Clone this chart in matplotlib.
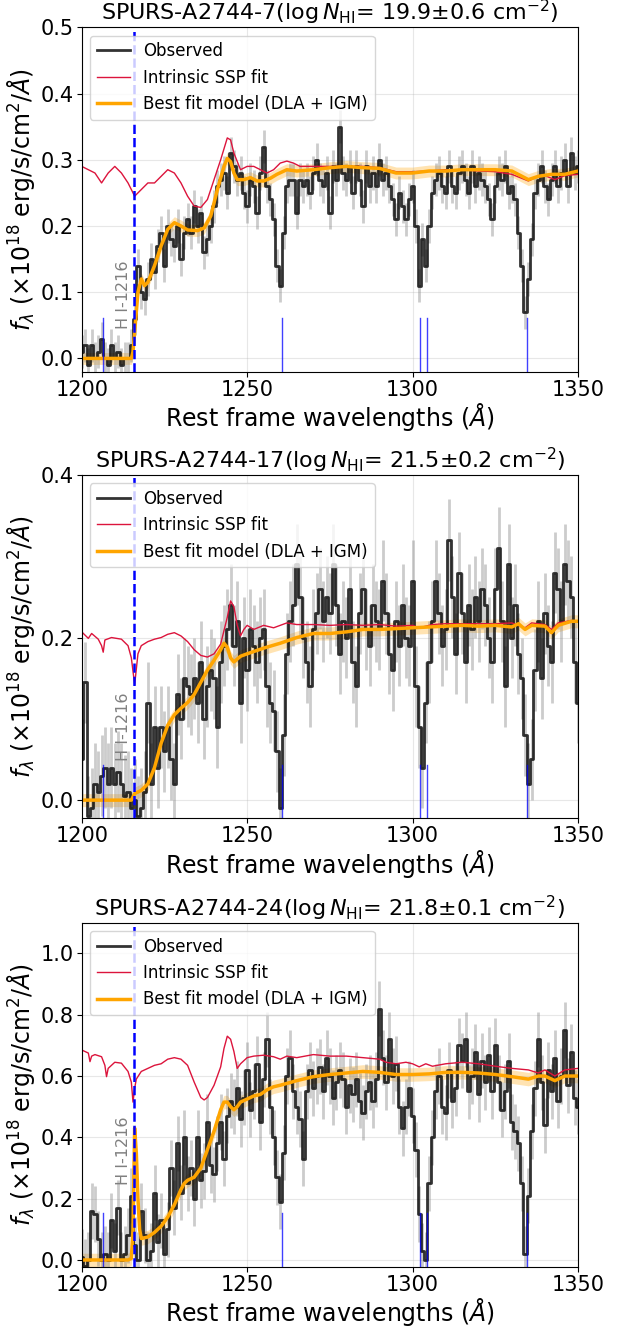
import numpy as np
import matplotlib
matplotlib.use("Agg")
import matplotlib.pyplot as plt

# wavelength grid of the observed spectra (1 A bins)
wave = np.arange(1200, 1351)

names = ["SPURS-A2744-7", "SPURS-A2744-17", "SPURS-A2744-24"]
logN = ["19.9", "21.5", "21.8"]
logN_err = ["0.6", "0.2", "0.1"]

# observed flux (x1e-18 erg/s/cm2/A)
obs_7 = [0.01, 0.02, -0.01, 0.02, 0.00, 0.01, 0.03, 0.00, -0.01, 0.02,
         0.00, 0.01, -0.01, 0.00, 0.00, 0.02, 0.06, 0.14, 0.10, 0.09,
         0.12, 0.15, 0.13, 0.17, 0.19, 0.14, 0.20, 0.18, 0.17, 0.20,
         0.15, 0.19, 0.21, 0.19, 0.23, 0.20, 0.22, 0.16, 0.18, 0.20,
         0.23, 0.26, 0.27, 0.28, 0.25, 0.31, 0.29, 0.27, 0.28, 0.25,
         0.23, 0.27, 0.26, 0.22, 0.28, 0.32, 0.26, 0.24, 0.21, 0.14,
         0.11, 0.19, 0.26, 0.27, 0.27, 0.22, 0.27, 0.26, 0.27, 0.25,
         0.28, 0.30, 0.27, 0.26, 0.28, 0.22, 0.29, 0.27, 0.35, 0.28,
         0.27, 0.29, 0.25, 0.29, 0.27, 0.23, 0.29, 0.26, 0.28, 0.26,
         0.30, 0.27, 0.28, 0.26, 0.24, 0.21, 0.25, 0.23, 0.21, 0.24,
         0.26, 0.20, 0.11, 0.18, 0.14, 0.20, 0.25, 0.27, 0.28, 0.26,
         0.25, 0.29, 0.26, 0.25, 0.28, 0.29, 0.27, 0.25, 0.29, 0.26,
         0.28, 0.27, 0.26, 0.24, 0.21, 0.26, 0.28, 0.27, 0.29, 0.25,
         0.26, 0.24, 0.19, 0.14, 0.07, 0.12, 0.18, 0.25, 0.27, 0.29,
         0.26, 0.24, 0.27, 0.29, 0.26, 0.28, 0.30, 0.26, 0.31, 0.28,
         0.29]
obs_17 = [0.05, 0.145, -0.02, -0.01, 0.02, 0.01, 0.03, 0.04, 0.02, 0.04,
          0.02, 0.035, 0.02, 0.005, 0.01, -0.01, 0.00, -0.02, -0.01, 0.01,
          0.12, 0.02, 0.09, 0.04, 0.09, 0.06, 0.09, 0.05, 0.02, 0.13,
          0.10, 0.15, 0.14, 0.13, 0.15, 0.12, 0.17, 0.10, 0.14, 0.16,
          0.15, 0.09, 0.17, 0.19, 0.21, 0.24, 0.19, 0.22, 0.12, 0.20,
          0.16, 0.21, 0.19, 0.17, 0.20, 0.21, 0.14, 0.12, 0.11, 0.06,
          -0.01, 0.08, 0.18, 0.22, 0.24, 0.29, 0.25, 0.20, 0.17, 0.14,
          0.21, 0.23, 0.26, 0.22, 0.25, 0.23, 0.29, 0.24, 0.18, 0.22,
          0.20, 0.26, 0.17, 0.14, 0.23, 0.26, 0.21, 0.19, 0.24, 0.22,
          0.21, 0.27, 0.23, 0.18, 0.16, 0.22, 0.19, 0.24, 0.20, 0.19,
          0.27, 0.14, 0.09, 0.04, 0.12, 0.17, 0.22, 0.27, 0.23, 0.19,
          0.21, 0.32, 0.25, 0.18, 0.28, 0.23, 0.17, 0.24, 0.21, 0.25,
          0.22, 0.26, 0.24, 0.20, 0.17, 0.26, 0.31, 0.22, 0.14, 0.29,
          0.20, 0.24, 0.18, 0.15, 0.08, 0.02, 0.05, 0.16, 0.22, 0.15,
          0.23, 0.19, 0.17, 0.28, 0.26, 0.22, 0.29, 0.27, 0.25, 0.17,
          0.12]
obs_24 = [0.01, -0.02, 0.00, 0.16, 0.15, 0.07, 0.00, 0.02, 0.00, 0.13,
          0.03, 0.17, 0.00, 0.02, 0.08, 0.21, 0.05, 0.00, 0.16, 0.08,
          0.00, 0.03, 0.22, 0.06, 0.13, 0.02, 0.10, 0.30, 0.17, 0.38,
          0.22, 0.40, 0.25, 0.30, 0.20, 0.40, 0.26, 0.29, 0.45, 0.31,
          0.28, 0.38, 0.45, 0.33, 0.47, 0.52, 0.50, 0.56, 0.46, 0.53,
          0.62, 0.49, 0.55, 0.64, 0.45, 0.59, 0.72, 0.50, 0.40, 0.27,
          0.19, 0.35, 0.60, 0.66, 0.55, 0.50, 0.46, 0.33, 0.55, 0.62,
          0.56, 0.60, 0.63, 0.55, 0.66, 0.60, 0.53, 0.58, 0.62, 0.59,
          0.50, 0.57, 0.54, 0.59, 0.52, 0.48, 0.55, 0.58, 0.52, 0.59,
          0.82, 0.66, 0.58, 0.72, 0.60, 0.64, 0.50, 0.43, 0.50, 0.56,
          0.47, 0.36, 0.15, 0.03, 0.00, 0.25, 0.40, 0.55, 0.60, 0.50,
          0.48, 0.62, 0.52, 0.56, 0.70, 0.65, 0.72, 0.55, 0.60, 0.68,
          0.54, 0.65, 0.58, 0.67, 0.55, 0.70, 0.58, 0.49, 0.55, 0.65,
          0.45, 0.42, 0.38, 0.25, 0.02, 0.21, 0.42, 0.56, 0.72, 0.58,
          0.44, 0.62, 0.55, 0.66, 0.52, 0.60, 0.75, 0.57, 0.68, 0.53,
          0.50]
obs_err = [0.025, 0.05, 0.09]

# intrinsic SSP continuum
ssp_wave_7 = [1200, 1202, 1204, 1206, 1208, 1210, 1212, 1214, 1216, 1218, 1220, 1222,
              1224, 1226, 1228, 1230, 1232, 1234, 1236, 1238, 1240, 1242, 1244, 1245,
              1246, 1248, 1250, 1252, 1254, 1256, 1258, 1260, 1262, 1264, 1266, 1270,
              1275, 1280, 1285, 1290, 1295, 1300, 1305, 1310, 1315, 1320, 1325, 1330,
              1335, 1338, 1340, 1343, 1346, 1350]
ssp_7 = [0.29, 0.285, 0.28, 0.265, 0.28, 0.29, 0.28, 0.265, 0.245, 0.255, 0.265, 0.265,
         0.275, 0.285, 0.28, 0.265, 0.245, 0.23, 0.228, 0.24, 0.27, 0.30, 0.333, 0.33,
         0.31, 0.285, 0.29, 0.29, 0.285, 0.28, 0.285, 0.295, 0.298, 0.295, 0.29, 0.29,
         0.29, 0.29, 0.29, 0.288, 0.282, 0.282, 0.283, 0.285, 0.285, 0.283, 0.282, 0.278,
         0.268, 0.275, 0.276, 0.27, 0.276, 0.278]
ssp_wave_17 = [1200, 1202, 1203, 1205, 1206, 1206.5, 1207, 1209, 1212, 1214, 1215, 1216,
               1217, 1218, 1220, 1222, 1224, 1226, 1228, 1230, 1232, 1234, 1236, 1238,
               1240, 1242, 1244, 1245, 1246, 1247, 1248, 1249, 1250, 1252, 1255, 1258,
               1260, 1262, 1265, 1270, 1275, 1280, 1285, 1290, 1295, 1300, 1302, 1304,
               1306, 1310, 1315, 1320, 1325, 1330, 1334, 1336, 1340, 1342, 1344, 1348, 1350]
ssp_17 = [0.207, 0.199, 0.205, 0.198, 0.19, 0.182, 0.197, 0.2, 0.198, 0.19, 0.175, 0.142,
          0.18, 0.19, 0.195, 0.198, 0.2, 0.204, 0.206, 0.202, 0.195, 0.185, 0.178, 0.176,
          0.18, 0.192, 0.225, 0.245, 0.238, 0.215, 0.202, 0.21, 0.215, 0.21, 0.215, 0.212,
          0.215, 0.218, 0.216, 0.216, 0.215, 0.216, 0.215, 0.216, 0.214, 0.215, 0.212, 0.214,
          0.216, 0.217, 0.217, 0.217, 0.217, 0.218, 0.212, 0.218, 0.216, 0.21, 0.218, 0.221, 0.22]
ssp_wave_24 = [1200, 1202, 1202.5, 1203, 1204, 1206, 1207, 1207.5, 1208, 1210, 1212, 1214,
               1215, 1215.5, 1216, 1216.5, 1218, 1220, 1222, 1224, 1226, 1228, 1230, 1232,
               1234, 1236, 1237, 1238, 1240, 1242, 1243, 1244, 1245, 1246, 1247, 1248,
               1250, 1252, 1255, 1258, 1260, 1262, 1265, 1270, 1275, 1280, 1285, 1290,
               1292, 1295, 1298, 1300, 1302, 1304, 1306, 1310, 1315, 1320, 1325, 1330,
               1335, 1338, 1340, 1343, 1346, 1350]
ssp_24 = [0.685, 0.675, 0.647, 0.665, 0.67, 0.663, 0.635, 0.598, 0.625, 0.645, 0.642, 0.615,
          0.58, 0.515, 0.56, 0.59, 0.615, 0.625, 0.635, 0.64, 0.655, 0.66, 0.655, 0.635,
          0.58, 0.53, 0.522, 0.53, 0.57, 0.63, 0.69, 0.73, 0.72, 0.68, 0.625, 0.64,
          0.66, 0.665, 0.668, 0.663, 0.655, 0.665, 0.66, 0.67, 0.665, 0.665, 0.66, 0.655,
          0.645, 0.64, 0.645, 0.64, 0.63, 0.64, 0.632, 0.64, 0.645, 0.64, 0.632, 0.625,
          0.62, 0.61, 0.62, 0.60, 0.62, 0.625]

# best-fit model (DLA + IGM) and its uncertainty
fit_wave_7 = [1200, 1215, 1215.5, 1216, 1217, 1218, 1219, 1220, 1222, 1224, 1226, 1228,
              1230, 1232, 1235, 1237, 1239, 1241, 1243, 1244, 1245, 1246, 1247, 1249,
              1251, 1253, 1255, 1257, 1259, 1262, 1265, 1270, 1275, 1280, 1285, 1290,
              1295, 1300, 1305, 1310, 1315, 1320, 1325, 1330, 1335, 1338, 1342, 1346, 1350]
fit_7 = [0.0, 0.0, 0.01, 0.04, 0.10, 0.12, 0.11, 0.115, 0.14, 0.17, 0.195, 0.205,
         0.2, 0.194, 0.193, 0.197, 0.215, 0.255, 0.29, 0.302, 0.297, 0.28, 0.27, 0.27,
         0.273, 0.268, 0.268, 0.272, 0.278, 0.285, 0.283, 0.285, 0.288, 0.29, 0.288, 0.287,
         0.28, 0.28, 0.283, 0.283, 0.285, 0.285, 0.285, 0.283, 0.27, 0.275, 0.278, 0.278, 0.283]
fit_wave_17 = [1200, 1215, 1216, 1218, 1220, 1222, 1224, 1226, 1228, 1230, 1232, 1234,
               1236, 1238, 1240, 1242, 1243, 1244, 1245, 1246, 1248, 1250, 1255, 1260,
               1265, 1270, 1275, 1280, 1285, 1290, 1295, 1300, 1305, 1310, 1315, 1320,
               1325, 1330, 1332, 1334, 1336, 1340, 1342, 1344, 1348, 1350]
fit_17 = [0.0, 0.0, 0.008, 0.012, 0.02, 0.04, 0.07, 0.092, 0.105, 0.113, 0.12, 0.13,
          0.145, 0.16, 0.172, 0.185, 0.193, 0.188, 0.175, 0.17, 0.177, 0.18, 0.187, 0.193,
          0.2, 0.205, 0.205, 0.207, 0.21, 0.21, 0.211, 0.212, 0.213, 0.214, 0.215, 0.214,
          0.215, 0.213, 0.217, 0.21, 0.215, 0.214, 0.206, 0.215, 0.22, 0.22]
fit_wave_24 = [1200, 1214, 1215, 1215.5, 1216, 1216.5, 1217, 1217.5, 1218, 1220, 1222, 1224,
               1226, 1228, 1230, 1231, 1232, 1234, 1236, 1238, 1240, 1242, 1243, 1244,
               1245, 1246, 1247, 1248, 1250, 1252, 1254, 1256, 1258, 1260, 1265, 1270,
               1275, 1280, 1285, 1290, 1295, 1300, 1305, 1310, 1315, 1320, 1325, 1330,
               1335, 1338, 1340, 1343, 1346, 1350]
fit_24 = [0.0, 0.0, 0.005, 0.1, 0.43, 0.35, 0.2, 0.1, 0.07, 0.075, 0.09, 0.11,
          0.14, 0.18, 0.23, 0.25, 0.26, 0.27, 0.3, 0.36, 0.42, 0.49, 0.515, 0.515,
          0.5, 0.49, 0.5, 0.515, 0.525, 0.535, 0.54, 0.555, 0.565, 0.57, 0.585, 0.598,
          0.605, 0.61, 0.615, 0.612, 0.605, 0.605, 0.607, 0.612, 0.612, 0.61, 0.605, 0.598,
          0.59, 0.6, 0.6, 0.585, 0.6, 0.6]
fit_err = [0.009, 0.008, 0.022]

# ISM absorption lines (Si III, Si II, O I, Si II, C II)
ism_lines = [1206.5, 1260.42, 1302.17, 1304.37, 1334.53]
lya = 1215.67

ylims = [(-0.02, 0.5), (-0.022, 0.4), (-0.022, 1.1)]
yticks = [np.arange(0, 0.51, 0.1), [0.0, 0.2, 0.4], np.arange(0, 1.01, 0.2)]
label_y = [0.045, 0.048, 0.245]

obs_all = [obs_7, obs_17, obs_24]
ssp_all = [(ssp_wave_7, ssp_7), (ssp_wave_17, ssp_17), (ssp_wave_24, ssp_24)]
fit_all = [(fit_wave_7, fit_7), (fit_wave_17, fit_17), (fit_wave_24, fit_24)]

# axes boxes [left, bottom, width, height] in figure fraction
boxes = [[0.1295, 0.7197, 0.7865, 0.2597],
         [0.1295, 0.3831, 0.7865, 0.2587],
         [0.1295, 0.0447, 0.7865, 0.2594]]

fig = plt.figure(figsize=(6.31, 13.26), dpi=100)

for i in range(3):
    ax = fig.add_axes(boxes[i])
    flux = np.array(obs_all[i])

    ax.vlines(wave, flux - obs_err[i], flux + obs_err[i], color='gray', alpha=0.4, lw=2)
    ax.plot(wave, flux, drawstyle='steps-mid', color='k', alpha=0.8, lw=2, label='Observed')
    ax.plot(ssp_all[i][0], ssp_all[i][1], color='crimson', lw=1, label='Intrinsic SSP fit')
    fw, fm = np.array(fit_all[i][0]), np.array(fit_all[i][1])
    ax.fill_between(fw, fm - fit_err[i], fm + fit_err[i], color='orange', alpha=0.3, lw=0)
    ax.plot(fw, fm, color='orange', lw=2.5, label='Best fit model (DLA + IGM)')

    ax.axvline(lya, color='blue', ls='--', lw=1.8)
    for l in ism_lines:
        ax.axvline(l, ymin=0, ymax=0.155, color='blue', lw=1, alpha=0.75)
    ax.text(lya - 0.7, label_y[i], 'H I-1216', rotation=90, color='gray',
            fontsize=11.5, ha='right', va='bottom')

    ax.set_xlim(1200, 1350)
    ax.set_ylim(*ylims[i])
    ax.set_xticks([1200, 1250, 1300, 1350])
    ax.set_yticks(yticks[i])
    ax.tick_params(labelsize=15, pad=2.5)
    ax.grid(alpha=0.3)
    ax.set_xlabel(r'Rest frame wavelengths ($\AA$)', fontsize=17, labelpad=1)
    ax.set_ylabel(r'$f_{\lambda}$ ($\times 10^{18}$ erg/s/cm$^2$/$\AA$)', fontsize=17, labelpad=2)
    ax.set_title(names[i] + r'($\log N_{\rm HI}$= ' + logN[i] + r'$\pm$' + logN_err[i]
                 + r' cm$^{-2}$)', fontsize=16, pad=1)
    ax.legend(loc='upper left', fontsize=12)

fig.savefig('out.png', dpi=100)
